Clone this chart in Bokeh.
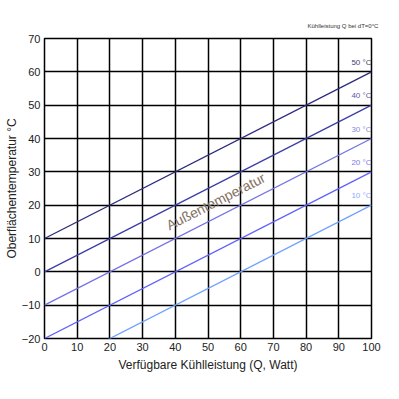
from bokeh.plotting import figure
from bokeh.models import Label, FixedTicker, Title
from bokeh.embed import file_html
from bokeh.resources import INLINE

ambient = [50, 40, 30, 20, 10]
q_vals = [0, 100]
slope = 0.5
offset = -40
line_colors = ["#2b2b7c", "#3c3caa", "#7272e6", "#6060ff", "#72a2ff"]
label_colors = ["#45456a", "#5a5aa8", "#8a8ad6", "#7a7ae8", "#8aaaff"]
x_ticks = [0, 10, 20, 30, 40, 50, 60, 70, 80, 90, 100]
y_ticks = [-20, -10, 0, 10, 20, 30, 40, 50, 60, 70]

FONT = "Liberation Sans"

p = figure(width=391, height=391, x_range=(0, 100), y_range=(-20, 70),
           output_backend="svg", toolbar_location=None,
           min_border_left=44, min_border_right=20, min_border_top=38,
           min_border_bottom=53)
p.background_fill_color = "white"
p.border_fill_color = "white"
p.outline_line_color = "black"
p.outline_line_width = 1.5

for ax in (p.xaxis, p.yaxis):
    ax.axis_line_color = None
    ax.major_tick_line_color = None
    ax.minor_tick_line_color = None
    ax.major_tick_out = 0
    ax.major_tick_in = 0
    ax.minor_tick_out = 0
    ax.minor_tick_in = 0
    ax.major_label_text_font = FONT
    ax.major_label_text_font_size = "11px"
    ax.major_label_text_color = "#222222"
    ax.axis_label_text_font = FONT
    ax.axis_label_text_font_size = "12px"
    ax.axis_label_text_font_style = "normal"
    ax.axis_label_text_color = "#222222"

p.xaxis.ticker = FixedTicker(ticks=x_ticks)
p.yaxis.ticker = FixedTicker(ticks=y_ticks)
p.xaxis.major_label_standoff = 4
p.yaxis.major_label_standoff = 4
p.xaxis.axis_label = "Verfügbare Kühlleistung (Q, Watt)"
p.yaxis.axis_label = "Oberflächentemperatur °C"
p.xaxis.axis_label_standoff = 4
p.yaxis.axis_label_standoff = 0

p.xgrid.ticker = FixedTicker(ticks=x_ticks)
p.ygrid.ticker = FixedTicker(ticks=y_ticks)
p.grid.grid_line_color = "black"
p.grid.grid_line_width = 1.5
p.grid.grid_line_alpha = 1.0

for t, c, lc in zip(ambient, line_colors, label_colors):
    ys = [t + offset + slope * q for q in q_vals]
    p.line(q_vals, ys, line_color=c, line_width=1.3)
    p.add_layout(Label(x=100, y=ys[-1] + 1.5, text=f"{t} °C", text_align="right",
                       text_baseline="bottom", text_font=FONT,
                       text_font_size="8px", text_color=lc))

p.add_layout(Label(x=53.5, y=19, text="Außentemperatur", angle=27, angle_units="deg",
                   text_align="center", text_baseline="bottom", text_font=FONT,
                   text_font_size="14px", text_color="#85705f"))

note = Title(text="Kühlleistung Q bei dT=0°C", align="left", offset=263,
             text_font=FONT, text_font_size="6px", text_font_style="normal",
             text_color="#333333", standoff=20)
p.add_layout(note, "above")

open("out.html", "w").write(file_html(p, INLINE))
